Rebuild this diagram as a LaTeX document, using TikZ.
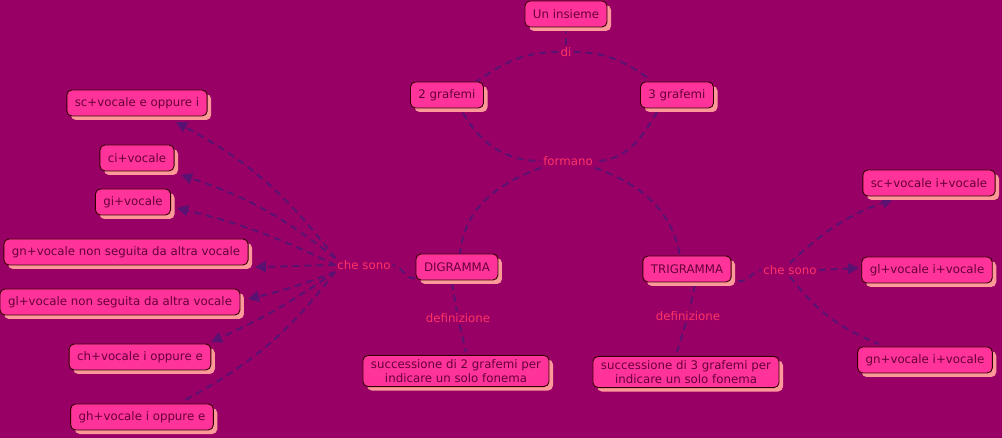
\documentclass[tikz,border=0pt]{standalone}
\usepackage{fontspec}
\setmainfont{DejaVu Sans}
\usetikzlibrary{arrows.meta,shadows}
\definecolor{bgpurple}{HTML}{990066}
\definecolor{cpink}{HTML}{FF3399}
\definecolor{cshadow}{HTML}{FF9999}
\definecolor{cline}{HTML}{5A1272}
\definecolor{ctext}{HTML}{66003A}
\definecolor{clabel}{HTML}{FF3366}
\begin{document}
\begin{tikzpicture}[x=1pt,y=-1pt,
 concept/.style={draw=black!80!red,line width=0.9pt,fill=cpink,rounded corners=5pt,text=ctext,
  font=\fontsize{11.8}{14}\selectfont,inner xsep=8pt,inner ysep=4pt,minimum height=26pt,align=center,
  drop shadow={shadow xshift=4pt,shadow yshift=-4pt,fill=cshadow,opacity=1}},
 lab/.style={text=clabel,font=\fontsize{11.8}{14}\selectfont,inner sep=2pt},
 link/.style={draw=cline,line width=2pt,dash pattern=on 7pt off 5pt},
 arr/.style={link,-{Triangle[length=11pt,width=11pt]}}]
 \fill[bgpurple] (0,0) rectangle (1002,438);
 \useasboundingbox (0,0) rectangle (1002,438);
 \node[lab] (di) at (566,52) {di};
 \node[lab] (form) at (568,161) {formano};
 \node[lab] (cs1) at (364,265) {che sono};
 \node[lab] (def1) at (458,318) {definizione};
 \node[lab] (def2) at (688,316) {definizione};
 \node[lab] (cs2) at (790,270) {che sono};
 \draw[link] (566,26) -- (di);
 \draw[link] (di.west) to[out=180,in=35] (476,82);
 \draw[link] (di.east) to[out=0,in=145] (651,80);
 \draw[link] (463,113) to[out=-60,in=180] (form.west);
 \draw[link] (657,112) to[out=-120,in=0] (form.east);
 \draw[link] (form.south west) to[out=200,in=85] (460,254);
 \draw[link] (form.south east) to[out=-20,in=100] (680,256);
 \draw[link] (415,278) to[out=190,in=-10] (cs1.east);
 \draw[arr] (cs1.north west) to[bend right=12] (176,122);
 \draw[arr] (cs1.north west) to[bend right=10] (181,175);
 \draw[arr] (cs1.west) to[bend right=6] (177,208);
 \draw[arr] (cs1.west) -- (255,267);
 \draw[arr] (cs1.south west) to[bend left=4] (248,299);
 \draw[arr] (cs1.south west) to[bend left=5] (211,342);
 \draw[link] (cs1.south west) to[bend left=12] (185,400);
 \draw[link] (452,283) -- (def1);
 \draw[link] (def1) -- (466,352);
 \draw[link] (695,285) -- (def2);
 \draw[link] (def2) -- (677,352);
 \draw[link] (738,281) to[out=-10,in=190] (cs2.west);
 \draw[arr] (cs2.north) to[bend left=12] (893,199);
 \draw[arr] (cs2.east) -- (859,268);
 \draw[link] (cs2.south) to[bend right=15] (879,344);
 \node[concept] (un) at (566,14) {Un insieme};
 \node[concept] (g2) at (447,95) {2 grafemi};
 \node[concept] (g3) at (677,95) {3 grafemi};
 \node[concept] (sce) at (137,103) {sc+vocale e oppure i};
 \node[concept] (ci) at (137,158) {ci+vocale};
 \node[concept] (gi) at (133,202) {gi+vocale};
 \node[concept] (gn) at (126,252) {gn+vocale non seguita da altra vocale};
 \node[concept] (gl) at (120,302) {gl+vocale non seguita da altra vocale};
 \node[concept] (ch) at (140,357) {ch+vocale i oppure e};
 \node[concept] (gh) at (142,417) {gh+vocale i oppure e};
 \node[concept] (dig) at (457,267) {DIGRAMMA};
 \node[concept] (suc2) at (456,371) {successione di 2 grafemi per\\indicare un solo fonema};
 \node[concept] (tri) at (687,269) {TRIGRAMMA};
 \node[concept] (suc3) at (686,372) {successione di 3 grafemi per\\indicare un solo fonema};
 \node[concept] (sc3) at (929,183) {sc+vocale i+vocale};
 \node[concept] (gl3) at (927,270) {gl+vocale i+vocale};
 \node[concept] (gn3) at (925,360) {gn+vocale i+vocale};
\end{tikzpicture}
\end{document}
